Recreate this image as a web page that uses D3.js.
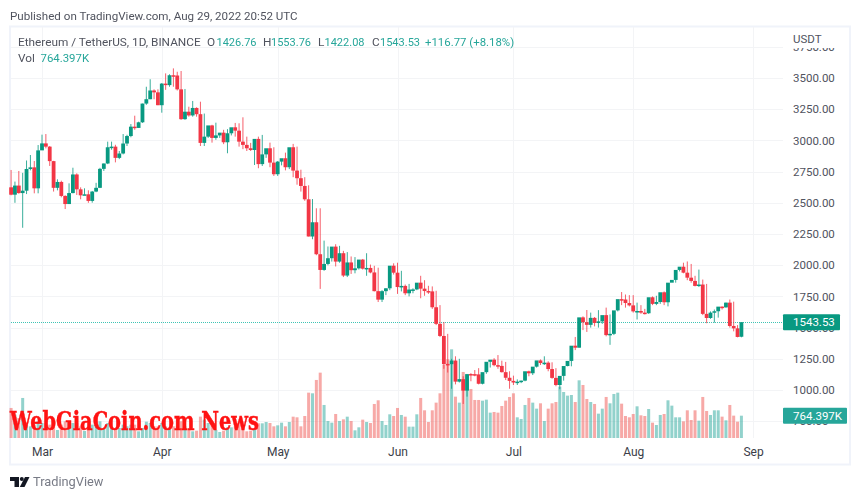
<!DOCTYPE html>
<html lang="en">
  <head>
    <meta charset="UTF-8" />
    <title>Ethereum / TetherUS</title>
    <style>
      html, body { margin: 0; padding: 0; background: #fff; }
      svg { display: block; filter: blur(0.35px); font-family: Roboto, sans-serif; }
    </style>
  </head>
  <body>
    <svg width="860" height="499"></svg>
    <script src="https://cdnjs.cloudflare.com/ajax/libs/d3/7.8.5/d3.min.js"></script>
    <script>
      // daily candles, Feb 21 to Aug 29 2022
      var firstDay = "2022-02-21";
      var lastDay = "2022-08-29";

      var opens = [
        2624,2565,2638,2578,2597,2771,2784,2616,
        2920,2976,2950,2834,2620,2667,2555,2490,2578,2727,2608,2560,2568,2515,2590,2620,2772,2815,2945,2950,2860,2895,2975,3035,3110,3100,3145,3295,3330,3400,3385,
        3282,3455,3443,3522,3520,3409,3170,3230,3200,3260,3210,2980,3030,3120,3020,3040,3062,2985,3057,3105,3078,2990,2964,2937,2923,3012,2810,2888,2937,2822,
        2729,2830,2857,2785,2945,2758,2697,2635,2528,2230,2344,2088,1962,2010,2056,2149,2029,2096,1917,2022,1960,1975,2045,1972,1978,1942,1792,1724,1792,1815,1996,
        1940,1825,1834,1775,1805,1806,1860,1812,1793,1790,1663,1530,1433,1209,1207,1236,1067,1087,995,1128,1127,1125,1050,1143,1226,1243,1199,1193,1143,1098,
        1073,1060,1067,1075,1150,1134,1187,1237,1216,1219,1168,1097,1040,1113,1192,1233,1355,1339,1582,1543,1522,1578,1537,1550,1600,1440,1450,1638,1728,1725,1697,
        1678,1630,1633,1620,1615,1743,1690,1705,1783,1703,1860,1882,1962,1988,1940,1900,1874,1834,1845,1610,1577,1620,1631,1668,1662,1700,1513,1494,1426.76
      ];
      var closes = [
        2565,2638,2578,2597,2771,2784,2616,2920,
        2976,2950,2834,2620,2667,2555,2490,2578,2727,2608,2560,2568,2515,2590,2620,2772,2815,2945,2950,2860,2895,2975,3035,3110,3100,3145,3295,3330,3400,3385,3282,
        3455,3443,3522,3520,3409,3170,3230,3200,3260,3210,2980,3030,3120,3020,3040,3062,2985,3057,3105,3078,2990,2964,2937,2923,3012,2810,2888,2937,2822,2729,
        2830,2857,2785,2945,2758,2697,2635,2528,2230,2344,2088,1962,2010,2056,2149,2029,2096,1917,2022,1960,1975,2045,1972,1978,1942,1792,1724,1792,1815,1996,1940,
        1825,1834,1775,1805,1806,1860,1812,1793,1790,1663,1530,1433,1207,1207,1236,1067,1087,995,1127,1127,1125,1050,1143,1226,1243,1199,1193,1143,1098,1073,
        1060,1067,1075,1150,1134,1187,1237,1216,1219,1168,1097,1040,1113,1192,1233,1355,1339,1582,1543,1522,1578,1537,1550,1600,1440,1450,1638,1728,1725,1697,1678,
        1630,1633,1620,1615,1743,1690,1705,1783,1703,1860,1882,1962,1988,1940,1900,1874,1834,1845,1610,1577,1620,1631,1668,1662,1700,1513,1494,1425,1543.53
      ];
      var highs = [
        2763,2670,2755,2740,2839,2883,2835,2963,
        3046,3051,2955,2836,2688,2677,2560,2656,2781,2736,2624,2616,2600,2595,2660,2780,2815,2990,2990,2965,2915,3051,3045,3131,3198,3150,3295,3430,3490,3409,3409,
        3460,3537,3530,3577,3550,3556,3412,3270,3316,3265,3310,3215,3060,3125,3142,3060,3085,3090,3060,3140,3137,3185,3030,2980,2975,3030,3044,2915,2982,2945,2835,
        2838,2902,2890,2972,2950,2765,2705,2640,2530,2456,2456,2197,2150,2095,2168,2155,2115,2105,2070,2065,1985,2050,2096,2005,1995,1980,1800,1815,1825,2015,2020,
        1955,1845,1850,1815,1830,1915,1880,1835,1830,1795,1680,1545,1450,1250,1270,1250,1110,1100,1135,1160,1175,1135,1150,1240,1255,1280,1235,1225,1150,1115,
        1085,1075,1085,1155,1165,1195,1245,1270,1230,1222,1175,1100,1120,1200,1280,1425,1400,1590,1641,1620,1585,1640,1570,1660,1605,1480,1645,1785,1765,1760,1760,
        1700,1680,1650,1665,1750,1755,1725,1790,1790,1870,1940,1965,2020,2030,2010,1915,1965,1885,1850,1630,1645,1640,1670,1700,1725,1708,1520,1510,1553.76
      ];
      var lows = [
        2560,2500,2573,2300,2570,2760,2576,2576,
        2928,2936,2795,2590,2600,2544,2450,2490,2576,2563,2528,2563,2500,2501,2585,2618,2755,2810,2925,2824,2850,2888,2955,3025,3085,3100,3140,3285,3330,3330,3282,
        3222,3405,3430,3430,3400,3165,3165,3190,3190,3190,2955,2955,3020,2982,3005,3020,2970,2897,3040,3030,2950,2930,2915,2915,2803,2777,2795,2860,2785,2715,
        2715,2800,2760,2770,2705,2645,2590,2516,2230,2208,2080,1810,1955,1999,2029,1990,2020,1905,1905,1930,1935,1965,1965,1915,1935,1790,1705,1705,1760,1800,1925,
        1770,1790,1760,1750,1775,1800,1735,1755,1770,1650,1520,1424,1170,1140,1010,1045,1060,888,947,1070,1110,1045,1045,1130,1180,1190,1170,1140,1080,1010,
        1040,1040,1055,1070,1110,1120,1180,1200,1200,1150,1090,1030,1006,1075,1190,1190,1320,1340,1480,1465,1500,1510,1500,1530,1430,1362,1440,1630,1680,1660,1670,
        1620,1565,1610,1605,1610,1680,1680,1690,1680,1670,1875,1860,1950,1935,1880,1860,1830,1825,1600,1535,1570,1540,1580,1645,1660,1500,1470,1422,1422.08
      ];
      // volume in thousands, the left part is guessed behind the red text
      var volumes = [
        1029,800,686,1372,457,400,457,572,
        514,514,457,629,274,457,572,572,514,514,400,240,343,457,457,572,343,514,343,343,343,457,400,457,457,229,343,560,514,400,400,
        514,400,343,400,400,572,400,286,229,251,732,629,514,514,274,206,251,366,366,400,572,457,229,251,309,503,503,549,514,400,
        434,526,400,549,731,709,400,754,1554,1532,1989,2240,1132,583,526,823,583,640,731,583,263,366,629,549,514,1166,1292,583,446,812,754,
        1029,789,731,389,389,812,1372,949,549,949,1212,1532,2503,2697,3040,1417,1212,2263,2195,1680,1303,1303,1280,1314,869,892,869,1097,1280,1406,
        1532,709,652,1132,1372,1212,1006,1189,583,1006,1189,1234,1760,1577,1452,1474,1234,1977,1817,1337,1234,1166,834,1006,1406,1189,1509,1554,1177,754,709,
        823,1086,777,754,994,526,446,789,823,1292,1109,709,709,572,949,617,949,594,1406,926,789,949,949,732,606,1132,766,560,764.397
      ];

      var priceTicks = [750, 1000, 1250, 1500, 1750, 2000, 2250, 2500, 2750, 3000, 3250, 3500, 3750];
      var lastClose = 1543.53;
      var lastVolume = 764.397;

      var upColor = "#089981";
      var downColor = "#f23645";
      var upVol = "#26a69a";
      var downVol = "#ef5350";
      var textColor = "#50535e";

      var svg = d3.select("svg");

      var parseDay = d3.utcParse("%Y-%m-%d");
      var days = d3.utcDay.range(parseDay(firstDay), d3.utcDay.offset(parseDay(lastDay), 1));
      var months = d3.utcMonth.range(new Date(Date.UTC(2022, 2, 1)), new Date(Date.UTC(2022, 8, 2)));

      var x = d3.scaleUtc()
        .domain([months[0], months[months.length - 1]])
        .range([42, 753]);
      var y = d3.scaleLinear().domain([1000, 3500]).range([390, 78]);
      var yVol = d3.scaleLinear().domain([0, lastVolume]).range([438, 415.7]);

      var candles = days.map(function (day, i) {
        return {
          day: day,
          open: opens[i],
          close: closes[i],
          high: highs[i],
          low: lows[i],
          vol: volumes[i],
          up: closes[i] >= opens[i],
        };
      });

      // outer frame
      svg.append("rect")
        .attr("x", 10).attr("y", 26.5)
        .attr("width", 840).attr("height", 438)
        .attr("fill", "#fff")
        .attr("stroke", "#f0f3fa")
        .attr("stroke-width", 2);

      // grid
      var grid = svg.append("g").attr("stroke", "#f3f4f6").attr("stroke-width", 1);
      grid.selectAll("line.h")
        .data(priceTicks)
        .enter()
        .append("line")
        .attr("class", "h")
        .attr("x1", 11).attr("x2", 783)
        .attr("y1", function (d) { return Math.round(y(d)) + 0.5; })
        .attr("y2", function (d) { return Math.round(y(d)) + 0.5; });
      grid.selectAll("line.v")
        .data(months)
        .enter()
        .append("line")
        .attr("class", "v")
        .attr("x1", function (d) { return Math.round(x(d)) + 0.5; })
        .attr("x2", function (d) { return Math.round(x(d)) + 0.5; })
        .attr("y1", 27).attr("y2", 438);

      // volume under the candles
      svg.append("g")
        .selectAll("rect")
        .data(candles)
        .enter()
        .append("rect")
        .attr("x", function (d) { return x(d.day) - 1.5; })
        .attr("width", 3)
        .attr("y", function (d) { return yVol(d.vol); })
        .attr("height", function (d) { return yVol(0) - yVol(d.vol); })
        .attr("fill", function (d) { return d.up ? upVol : downVol; })
        .attr("opacity", 0.5);

      // last price line
      svg.append("line")
        .attr("x1", 11).attr("x2", 783)
        .attr("y1", Math.round(y(lastClose)) + 0.5).attr("y2", Math.round(y(lastClose)) + 0.5)
        .attr("stroke", "#3fc4b4")
        .attr("stroke-width", 1)
        .attr("stroke-dasharray", "1 1");

      var candle = svg.append("g")
        .selectAll("g")
        .data(candles)
        .enter()
        .append("g");
      candle.append("line")
        .attr("x1", function (d) { return x(d.day); })
        .attr("x2", function (d) { return x(d.day); })
        .attr("y1", function (d) { return y(d.high); })
        .attr("y2", function (d) { return y(d.low); })
        .attr("stroke", function (d) { return d.up ? upColor : downColor; })
        .attr("stroke-opacity", 0.8)
        .attr("stroke-width", 1);
      candle.append("rect")
        .attr("x", function (d) { return x(d.day) - 1.9; })
        .attr("width", 3.8)
        .attr("y", function (d) { return y(Math.max(d.open, d.close)); })
        .attr("height", function (d) { return Math.max(1.5, Math.abs(y(d.open) - y(d.close))); })
        .attr("fill", function (d) { return d.up ? upColor : downColor; });

      // price axis
      var yAxis = svg.append("g")
        .attr("transform", "translate(783,0)")
        .call(d3.axisRight(y).tickValues(priceTicks).tickSize(0).tickPadding(10).tickFormat(d3.format(".2f")));
      yAxis.select(".domain").remove();
      yAxis.selectAll("text")
        .attr("fill", textColor)
        .attr("font-family", "Roboto, sans-serif")
        .attr("font-size", 11.5);

      // USDT header hides most of the top tick
      svg.append("rect")
        .attr("x", 784).attr("y", 28)
        .attr("width", 64).attr("height", 20)
        .attr("fill", "#fff");
      svg.append("text")
        .attr("x", 793).attr("y", 43)
        .attr("fill", textColor)
        .attr("font-size", 11.5)
        .text("USDT");

      // time axis
      var xAxis = svg.append("g")
        .attr("transform", "translate(0,438)")
        .call(d3.axisBottom(x).tickValues(months).tickSize(0).tickPadding(9).tickFormat(d3.utcFormat("%b")));
      xAxis.select(".domain").remove();
      xAxis.selectAll("text")
        .attr("fill", "#3b3e48")
        .attr("font-family", "Roboto, sans-serif")
        .attr("font-size", 12);

      // value boxes on the axis
      function valueBox(value, text, boxWidth, color) {
        var g = svg.append("g").attr("transform", "translate(783," + value + ")");
        g.append("rect")
          .attr("x", 0).attr("y", -8)
          .attr("width", boxWidth).attr("height", 16)
          .attr("rx", 1)
          .attr("fill", color);
        g.append("text")
          .attr("x", 10).attr("y", 4.3)
          .attr("fill", "#fff")
          .attr("font-size", 11.5)
          .text(text);
      }
      valueBox(y(lastClose), d3.format(".2f")(lastClose), 57, upColor);
      valueBox(yVol(lastVolume), lastVolume + "K", 64, upVol);

      // header and legend text
      function label(px, py, str, color, size) {
        svg.append("text")
          .attr("x", px).attr("y", py)
          .attr("fill", color)
          .attr("font-size", size || 11.8)
          .text(str);
      }
      label(10, 20, "Published on TradingView.com, Aug 29, 2022 20:52 UTC", textColor, 11.6);
      label(18, 46, "Ethereum / TetherUS, 1D, BINANCE", textColor);
      label(207, 46, "O", textColor);
      label(216.5, 46, "1426.76", upVol, 11);
      label(263, 46, "H", textColor);
      label(271, 46, "1553.76", upVol, 11);
      label(318, 46, "L", textColor);
      label(324.5, 46, "1422.08", upVol, 11);
      label(372, 46, "C", textColor);
      label(380, 46, "1543.53", upVol, 11);
      label(425, 46, "+116.77 (+8.18%)", upVol, 11.4);
      label(18, 62, "Vol", textColor);
      label(40.5, 62, "764.397K", upVol, 11.4);

      // red site name over the volume bars
      svg.append("text")
        .attr("x", 10).attr("y", 430)
        .attr("fill", "#ff1212")
        .attr("stroke", "#ff1212")
        .attr("stroke-width", 0.5)
        .attr("font-family", "'DejaVu Serif', serif")
        .attr("font-weight", "bold")
        .attr("font-size", 26)
        .attr("textLength", 249)
        .attr("lengthAdjust", "spacingAndGlyphs")
        .text("WebGiaCoin.com News");

      // logo, bottom left
      var logo = svg.append("g").attr("fill", "#131722");
      logo.append("path").attr("d", "M10 477H19V487H14.5V481H10Z");
      logo.append("circle").attr("cx", 21.8).attr("cy", 479).attr("r", 2);
      logo.append("path").attr("d", "M25 477H29.5L24.5 487H19.8Z");
      label(33, 486, "TradingView", "#787b86", 12.8);
    </script>
  </body>
</html>
